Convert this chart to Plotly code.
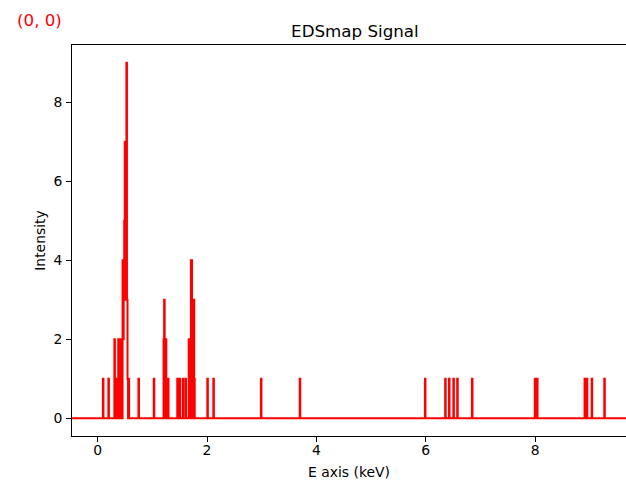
import numpy as np
import plotly.graph_objects as go

# Energy axis of the spectrum (keV)
energy_offset = -0.47
energy_scale = 0.01
n_channels = 1040

# Non-zero channels: energy (keV) and counts
peak_energy = [
    0.10, 0.20,
    0.31, 0.33, 0.36, 0.38, 0.40, 0.41, 0.43, 0.44, 0.46, 0.47, 0.48, 0.49,
    0.50, 0.51, 0.52, 0.53, 0.54, 0.55, 0.57,
    0.75, 1.03,
    1.21, 1.22, 1.23, 1.25, 1.29,
    1.46, 1.50, 1.56, 1.61, 1.67, 1.69, 1.71, 1.72, 1.75, 1.76, 1.77,
    2.01, 2.12, 2.99, 3.70,
    5.99, 6.36, 6.43, 6.51, 6.58, 6.85,
    8.00, 8.04, 8.91, 8.95, 9.04, 9.27,
]
peak_counts = [
    1, 1,
    2, 1, 1, 2, 1, 2, 2, 1, 4, 2, 4, 5,
    7, 3, 7, 9, 3, 1, 1,
    1, 1,
    2, 3, 2, 2, 1,
    1, 1, 1, 1, 2, 2, 4, 4, 3, 3, 1,
    1, 1, 1, 1,
    1, 1, 1, 1, 1, 1,
    1, 1, 1, 1, 1, 1,
]

energy = energy_offset + energy_scale * np.arange(n_channels)
intensity = np.zeros(n_channels)
for e, c in zip(peak_energy, peak_counts):
    intensity[int(round((e - energy_offset) / energy_scale))] = c

font_family = "DejaVu Sans"

fig = go.Figure(
    go.Scatter(
        x=energy,
        y=intensity,
        mode="lines",
        line=dict(color="#ff0000", width=2, shape="hvh"),
        showlegend=False,
        hoverinfo="skip",
    )
)

fig.update_layout(
    width=626,
    height=480,
    margin=dict(l=72, r=0, t=45, b=44),
    paper_bgcolor="white",
    plot_bgcolor="white",
    font=dict(family=font_family, size=13.9, color="black"),
    title=dict(
        text="EDSmap Signal",
        x=0.567,
        xref="container",
        xanchor="center",
        y=0.935,
        yref="container",
        yanchor="middle",
        font=dict(family=font_family, size=16.7, color="black"),
    ),
    annotations=[
        dict(
            text="(0, 0)",
            xref="paper",
            yref="paper",
            x=-0.102,
            y=1.064,
            xanchor="left",
            yanchor="middle",
            showarrow=False,
            font=dict(family=font_family, size=16.7, color="#ff0000"),
        )
    ],
)

fig.update_xaxes(
    range=[-0.47, 9.663],
    tickvals=[0, 2, 4, 6, 8],
    ticks="outside",
    ticklen=5,
    tickwidth=1,
    tickcolor="black",
    showline=True,
    linecolor="black",
    linewidth=1,
    mirror=True,
    showgrid=False,
    zeroline=False,
    ticklabelstandoff=-4,
    title=dict(text="E axis (keV)", standoff=13, font=dict(size=13.9)),
)
fig.update_yaxes(
    range=[-0.45, 9.45],
    tickvals=[0, 2, 4, 6, 8],
    ticks="outside",
    ticklen=5,
    tickwidth=1,
    tickcolor="black",
    showline=True,
    linecolor="black",
    linewidth=1,
    showgrid=False,
    zeroline=False,
    ticklabelstandoff=1,
    title=dict(text="Intensity", standoff=4, font=dict(size=13.9)),
)

fig.write_html("out.html")
